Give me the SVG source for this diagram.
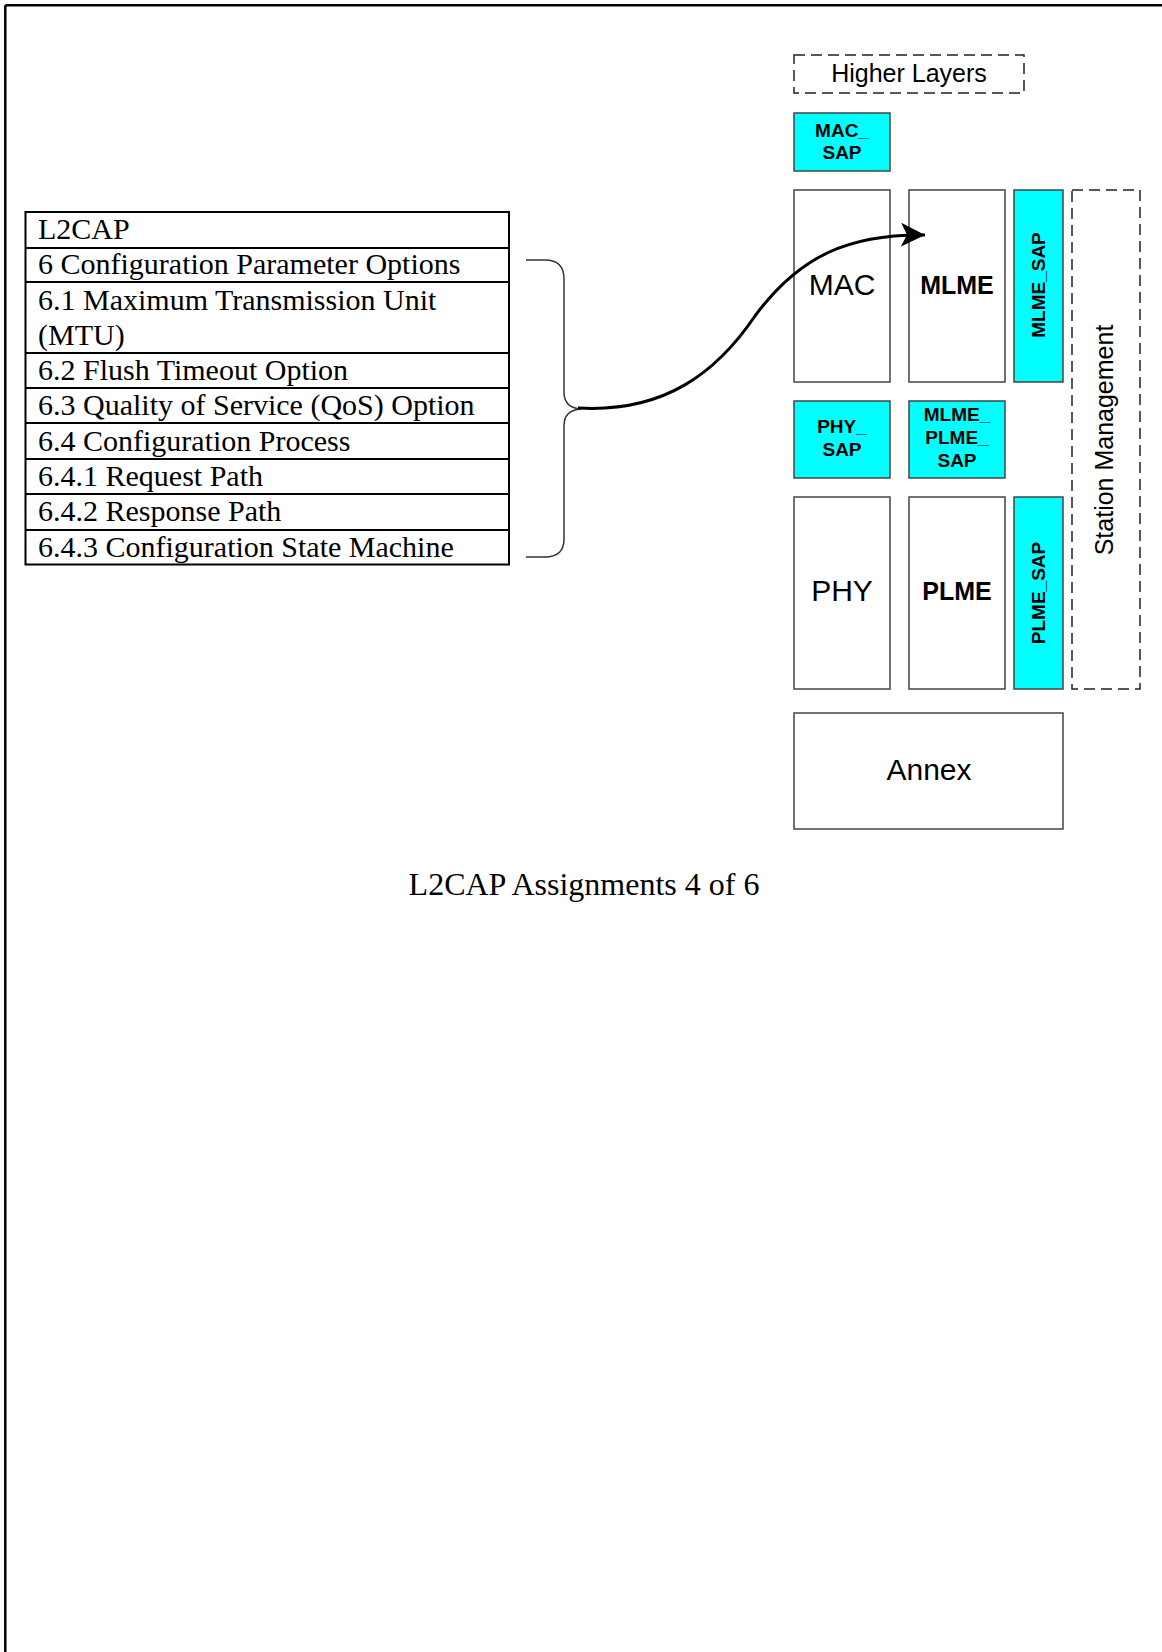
<svg xmlns="http://www.w3.org/2000/svg" width="1162" height="1652" viewBox="0 0 1162 1652">
<style>
.serif{font-family:"Liberation Serif","Times New Roman",serif;font-size:30px;fill:#000}
.cap{font-family:"Liberation Serif","Times New Roman",serif;font-size:32px;fill:#000}
.sans{font-family:"Liberation Sans",Arial,sans-serif;fill:#000}
.b{font-weight:bold}
.box{fill:#fff;stroke:#444;stroke-width:1.5}
.sap{fill:#00ffff;stroke:#444;stroke-width:1.5}
.dash{fill:none;stroke:#222;stroke-width:1.5;stroke-dasharray:11 6}
.row{stroke:#000;stroke-width:2}
</style>
<defs>
<marker id="arr" markerUnits="userSpaceOnUse" markerWidth="26" markerHeight="26" refX="24" refY="12" orient="auto">
<path d="M0,0 L24,12 L0,24 L6,12 Z" fill="#000"/>
</marker>
</defs>
<rect width="1162" height="1652" fill="#fff"/>
<g id="frame">
<line x1="5.3" y1="5.2" x2="1162" y2="5.2" stroke="#000" stroke-width="2.5"/>
<line x1="5.3" y1="5.2" x2="5.3" y2="1652" stroke="#000" stroke-width="2.5"/>
</g>
<g id="table">
<rect x="25.5" y="212" width="483.5" height="352.5" fill="#fff" stroke="#000" stroke-width="2"/>
<line class="row" x1="25.5" y1="248" x2="509" y2="248"/>
<line class="row" x1="25.5" y1="282" x2="509" y2="282"/>
<line class="row" x1="25.5" y1="353" x2="509" y2="353"/>
<line class="row" x1="25.5" y1="388" x2="509" y2="388"/>
<line class="row" x1="25.5" y1="423" x2="509" y2="423"/>
<line class="row" x1="25.5" y1="459" x2="509" y2="459"/>
<line class="row" x1="25.5" y1="494" x2="509" y2="494"/>
<line class="row" x1="25.5" y1="530" x2="509" y2="530"/>
<text class="serif" x="38" y="239">L2CAP</text>
<text class="serif" x="38" y="274">6 Configuration Parameter Options</text>
<text class="serif" x="38" y="310">6.1 Maximum Transmission Unit</text>
<text class="serif" x="38" y="345">(MTU)</text>
<text class="serif" x="38" y="380">6.2 Flush Timeout Option</text>
<text class="serif" x="38" y="415">6.3 Quality of Service (QoS) Option</text>
<text class="serif" x="38" y="451">6.4 Configuration Process</text>
<text class="serif" x="38" y="486">6.4.1 Request Path</text>
<text class="serif" x="38" y="521">6.4.2 Response Path</text>
<text class="serif" x="38" y="557">6.4.3 Configuration State Machine</text>
</g>
<g id="brace">
<path d="M526 260 L545 260 Q564 260 564 279 L564 392 Q564 408 581 409 Q564 410 564 426 L564 539 Q564 557 545 557 L526 557" fill="none" stroke="#333" stroke-width="1.5"/>
</g>
<g id="higher-layers">
<rect class="dash" x="794" y="55" width="230" height="38"/>
<text class="sans" x="909" y="82" font-size="25" text-anchor="middle">Higher Layers</text>
</g>
<g id="mac-sap">
<rect class="sap" x="794" y="113" width="96" height="58"/>
<text class="sans b" x="842" y="137" font-size="19" text-anchor="middle">MAC_</text>
<text class="sans b" x="842" y="159" font-size="19" text-anchor="middle">SAP</text>
</g>
<g id="mac">
<rect class="box" x="794" y="190" width="96" height="192"/>
<text class="sans" x="842" y="295" font-size="30" text-anchor="middle">MAC</text>
</g>
<g id="mlme">
<rect class="box" x="909" y="190" width="96" height="192" stroke="#222"/>
<text class="sans b" x="957" y="294" font-size="25" text-anchor="middle">MLME</text>
</g>
<g id="mlme-sap">
<rect class="sap" x="1014" y="190" width="49" height="192"/>
<text class="sans b" transform="translate(1045,285) rotate(-90)" font-size="19" text-anchor="middle">MLME_SAP</text>
</g>
<g id="station-management">
<rect class="dash" x="1072" y="190" width="68" height="499"/>
<text class="sans" transform="translate(1113,440) rotate(-90)" font-size="25" text-anchor="middle">Station Management</text>
</g>
<g id="phy-sap">
<rect class="sap" x="794" y="401" width="96" height="77"/>
<text class="sans b" x="842" y="433" font-size="19" text-anchor="middle">PHY_</text>
<text class="sans b" x="842" y="456" font-size="19" text-anchor="middle">SAP</text>
</g>
<g id="mlme-plme-sap">
<rect class="sap" x="909" y="401" width="96" height="77"/>
<text class="sans b" x="957" y="421" font-size="19" text-anchor="middle">MLME_</text>
<text class="sans b" x="957" y="444" font-size="19" text-anchor="middle">PLME_</text>
<text class="sans b" x="957" y="467" font-size="19" text-anchor="middle">SAP</text>
</g>
<g id="phy">
<rect class="box" x="794" y="497" width="96" height="192"/>
<text class="sans" x="842" y="601" font-size="30" text-anchor="middle">PHY</text>
</g>
<g id="plme">
<rect class="box" x="909" y="497" width="96" height="192" stroke="#222"/>
<text class="sans b" x="957" y="600" font-size="25" text-anchor="middle">PLME</text>
</g>
<g id="plme-sap">
<rect class="sap" x="1014" y="497" width="49" height="192"/>
<text class="sans b" transform="translate(1045,593) rotate(-90)" font-size="19" text-anchor="middle">PLME_SAP</text>
</g>
<g id="annex">
<rect class="box" x="794" y="713" width="269" height="116"/>
<text class="sans" x="929" y="780" font-size="30" text-anchor="middle">Annex</text>
</g>
<g id="connectors">
<path d="M578 408 C665 413 717 372 755 316 C800 255 850 234 925 235" fill="none" stroke="#000" stroke-width="3" marker-end="url(#arr)"/>
</g>
<g id="caption">
<text class="cap" x="584" y="895" text-anchor="middle">L2CAP Assignments 4 of 6</text>
</g>
</svg>
